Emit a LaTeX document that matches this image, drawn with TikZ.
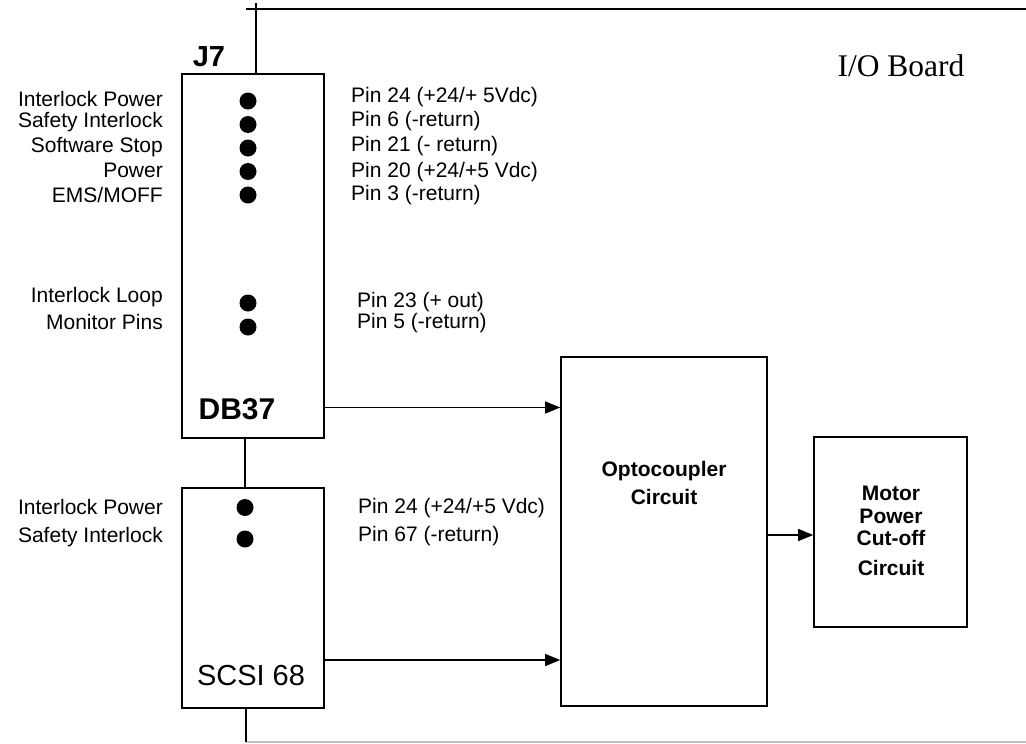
\documentclass[tikz,border=0pt]{standalone}
\usepackage{fontspec}
\newfontfamily\sansf{Liberation Sans}
\newfontfamily\seriff{Liberation Serif}
\usetikzlibrary{arrows.meta}
\tikzset{
  box/.style={draw, line width=1.6pt, inner sep=0pt},
  wire/.style={line width=1.3pt},
  arr/.style={line width=1.3pt, -{Triangle[length=15pt,width=12pt]}},
  dot/.style={circle, fill=black, inner sep=0pt, minimum size=17pt},
  lbl/.style={font=\sansf\fontsize{21}{23}\selectfont, inner sep=0pt},
  bold/.style={font=\sansf\bfseries\fontsize{21}{23}\selectfont, inner sep=0pt},
}
\begin{document}
\begin{tikzpicture}[x=1pt,y=-1pt]
\useasboundingbox (0,0) rectangle (1026,744);
% boxes
\node[box, minimum width=142pt, minimum height=364pt] (j7) at (253,256) {};
\node[box, minimum width=142pt, minimum height=220pt] (scsi) at (253,598) {};
\node[box, minimum width=206pt, minimum height=349pt] (opto) at (664,531.5) {};
\node[box, minimum width=153pt, minimum height=190pt] (motor) at (890.5,532) {};
% board outline
\coordinate (tl) at (246,9);
\coordinate (tr) at (1026,9);
\coordinate (tv) at (256,3);
\coordinate (bl) at (246,742);
\coordinate (br) at (1026,742);
\draw[wire] (tl) -- (tr);
\draw[wire] (tv) -- (tv |- j7.north);
\draw[line width=1.5pt, black!25] (bl) -- (br);
\draw[wire] (scsi.south -| bl) -- (bl);
% titles
\node[font=\sansf\bfseries\fontsize{29}{31}\selectfont, inner sep=0pt] (j7t) at (209,57) {J7};
\node[font=\sansf\bfseries\fontsize{30}{32}\selectfont, inner sep=0pt] (db37) at (237,409) {DB37};
\node[font=\sansf\fontsize{29}{31}\selectfont, inner sep=0pt] (scsit) at (251,676) {SCSI 68};
\node[font=\seriff\fontsize{31.5}{33}\selectfont, inner sep=0pt] (iob) at (901,66) {I/O Board};
% J7 pins
\foreach \y/\n in {101/1,124.5/2,148/3,171.5/4,195/5}
  \node[dot] (d\n) at (248,\y) {};
\node[dot] (d6) at (248,303) {};
\node[dot] (d7) at (248,327) {};
\node[lbl, anchor=east] (l1) at (163,99) {Interlock Power};
\node[lbl, anchor=east] (l2) at (163,122.5) {Safety Interlock};
\node[lbl, anchor=east] (l3) at (163,147) {Software Stop};
\node[lbl, anchor=east] (l4) at (163,170.5) {Power};
\node[lbl, anchor=east] (l5) at (163,195) {EMS/MOFF};
\node[lbl, anchor=east] (l6) at (163,297) {Interlock Loop};
\node[lbl, anchor=east] (l7) at (163,322) {Monitor Pins};
\node[lbl, anchor=west] (p1) at (351,97.5) {Pin 24 (+24/+ 5Vdc)};
\node[lbl, anchor=west] (p2) at (351,121.5) {Pin 6 (-return)};
\node[lbl, anchor=west] (p3) at (351,146) {Pin 21 (- return)};
\node[lbl, anchor=west] (p4) at (351,172) {Pin 20 (+24/+5 Vdc)};
\node[lbl, anchor=west] (p5) at (351,195.5) {Pin 3 (-return)};
\node[lbl, anchor=west] (p6) at (357,302) {Pin 23 (+ out)};
\node[lbl, anchor=west] (p7) at (357,323) {Pin 5 (-return)};
% SCSI pins
\node[dot] (s1) at (245,507.5) {};
\node[dot] (s2) at (245,539) {};
\node[lbl, anchor=east] (sl1) at (163,507) {Interlock Power};
\node[lbl, anchor=east] (sl2) at (163,537) {Safety Interlock};
\node[lbl, anchor=west] (sp1) at (358,508) {Pin 24 (+24/+5 Vdc)};
\node[lbl, anchor=west] (sp2) at (358,536) {Pin 67 (-return)};
% connector J7 - SCSI
\draw[wire] (j7.south -| s1) -- (scsi.north -| s1);
% circuit texts
\node[bold] (o1) at (664,471) {Optocoupler};
\node[bold] (o2) at (664,497) {Circuit};
\node[bold] (m1) at (891,493) {Motor};
\node[bold] (m2) at (891,516) {Power};
\node[bold] (m3) at (891,538) {Cut-off};
\node[bold] (m4) at (891,568) {Circuit};
% arrows
\coordinate (a1) at (0,407.5);
\coordinate (a2) at (0,660);
\coordinate (a3) at (0,535);
\draw[arr] (j7.east |- a1) -- (opto.west |- a1);
\draw[arr] (scsi.east |- a2) -- (opto.west |- a2);
\draw[arr] (opto.east |- a3) -- (motor.west |- a3);
\end{tikzpicture}
\end{document}
